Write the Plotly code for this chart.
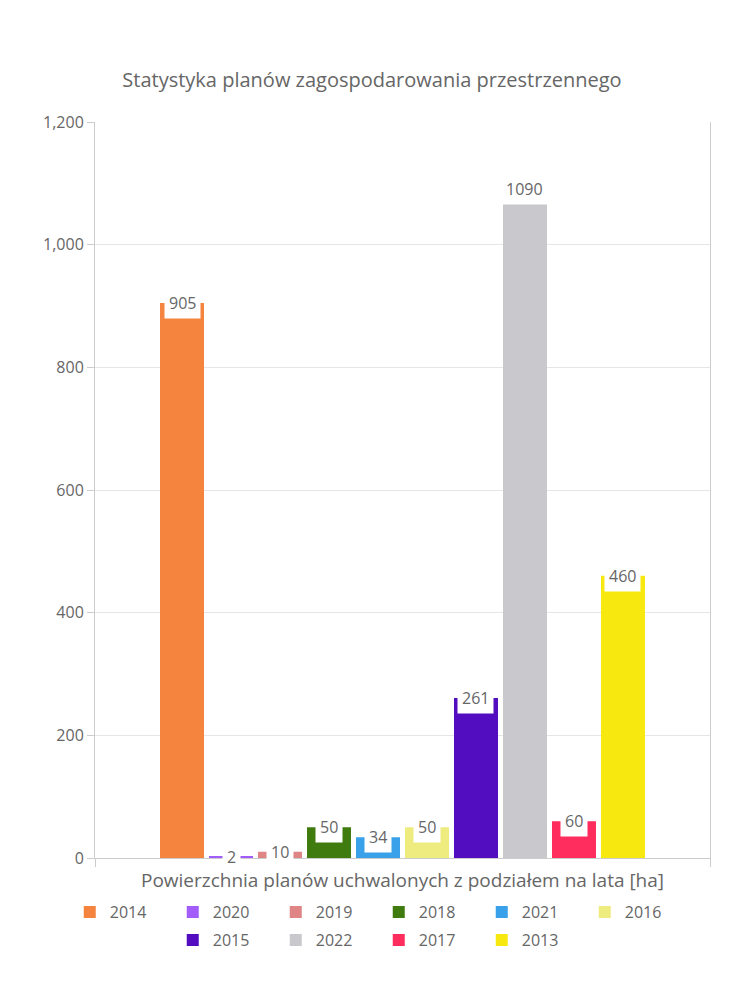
import plotly.graph_objects as go

years = ["2014", "2020", "2019", "2018", "2021", "2016", "2015", "2022", "2017", "2013"]
values = [905, 2, 10, 50, 34, 50, 261, 1090, 60, 460]
colors = ["#F5843F", "#A25CF9", "#E08585", "#3F7B0E", "#38A1E9",
          "#EEEB7F", "#520DC0", "#C9C9CD", "#FF2D5E", "#F7E90F"]
y_ticks = [0, 200, 400, 600, 800, 1000, 1200]

FONT = "Open Sans"
TXT = "#666666"
x_range = [-1.776, 10.776]

fig = go.Figure()
for i, (yr, v, c) in enumerate(zip(years, values, colors)):
    fig.add_trace(go.Bar(
        x=[i], y=[v], name=yr, width=0.898,
        marker=dict(color=c, line=dict(width=0)),
        legend="legend" if i < 6 else "legend2",
        hoverinfo="skip",
    ))
    fig.add_annotation(
        x=i, y=v, text=str(v), showarrow=False, yanchor="middle",
        bgcolor="white", borderpad=4,
        font=dict(family=FONT, size=16, color=TXT),
    )

legend_common = dict(
    orientation="h", xref="container", yref="container", x=0.505,
    xanchor="center", yanchor="middle",
    font=dict(family=FONT, size=16, color=TXT),
    entrywidth=58, itemwidth=30, bgcolor="rgba(0,0,0,0)",
)

fig.update_layout(
    width=750, height=1000,
    margin=dict(l=95, r=40, t=122, b=142, autoexpand=False),
    paper_bgcolor="white", plot_bgcolor="white",
    font=dict(family=FONT, color=TXT),
    title=dict(text="Statystyka planów zagospodarowania przestrzennego",
               x=0.496, xanchor="center", y=0.92, yanchor="middle",
               font=dict(family=FONT, size=20, color=TXT)),
    barmode="overlay",
    showlegend=True,
    legend=dict(**legend_common, y=0.088),
    legend2=dict(**legend_common, y=0.06),
    xaxis=dict(
        range=x_range, tickvals=x_range, ticks="outside", ticklen=8,
        tickcolor="#cccccc", showticklabels=False,
        showgrid=False, zeroline=False, showline=True, linecolor="#cccccc",
        title=dict(text="Powierzchnia planów uchwalonych z podziałem na lata [ha]",
                   font=dict(family=FONT, size=19, color=TXT), standoff=7),
    ),
    yaxis=dict(
        range=[0, 1200], tickvals=y_ticks, tickformat=",",
        ticks="outside", ticklen=7, tickcolor="#cccccc",
        showgrid=True, gridcolor="#e6e6e6", zeroline=False,
        showline=True, linecolor="#cccccc", mirror=True,
        tickfont=dict(family=FONT, size=16, color=TXT),
    ),
)

fig.write_html("out.html")
